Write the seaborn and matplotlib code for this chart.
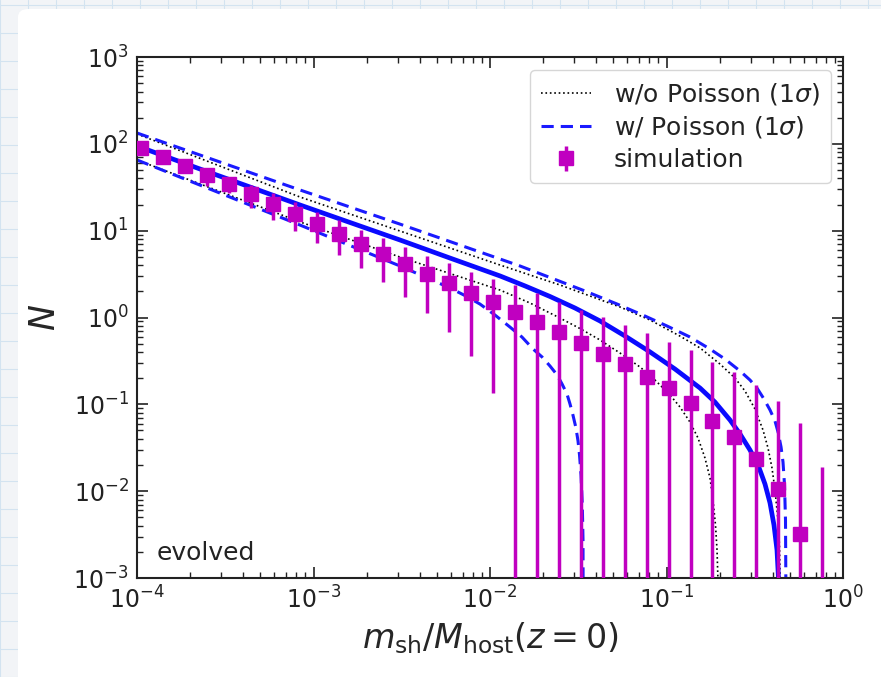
import numpy as np
import pandas as pd
import matplotlib
matplotlib.use("Agg")
import matplotlib.pyplot as plt
from matplotlib.patches import FancyBboxPatch
import seaborn as sns

# ---------------- data ----------------
sim_x = [1.054e-4, 1.404e-4, 1.870e-4, 2.491e-4, 3.318e-4, 4.42e-4, 5.89e-4, 7.84e-4,
         1.045e-3, 1.392e-3, 1.854e-3, 2.47e-3, 3.29e-3, 4.38e-3, 5.84e-3, 7.78e-3,
         1.036e-2, 1.38e-2, 1.84e-2, 2.45e-2, 3.26e-2, 4.34e-2, 5.79e-2, 7.71e-2,
         0.1027, 0.1368, 0.1822, 0.2427, 0.3233, 0.4307, 0.5737, 0.764]
sim_N = [89.5, 70.5, 55.5, 43.8, 34.5, 26.4, 20.3, 15.6, 11.9, 9.2, 7.0, 5.4, 4.1, 3.2,
         2.5, 1.91, 1.51, 1.16, 0.89, 0.68, 0.51, 0.38, 0.29, 0.206, 0.154, 0.104,
         0.064, 0.042, 0.0235, 0.0106, 0.0032, 0.0]
sim_hi = [101, 80, 64, 52, 42, 33.6, 27.2, 21.4, 16.4, 13.3, 10.2, 8.2, 6.5, 5.1, 4.25,
          3.34, 2.77, 2.37, 1.91, 1.51, 1.22, 1.01, 0.82, 0.66, 0.52, 0.42, 0.31, 0.235,
          0.167, 0.109, 0.061, 0.019]
sim_lo = [78, 60, 46, 33, 27, 18.2, 13.3, 9.9, 7.2, 5.25, 3.72, 2.56, 1.72, 1.13, 0.68,
          0.36, 0.135, 0, 0, 0, 0, 0, 0, 0, 0, 0, 0, 0, 0, 0, 0, 0]

mean_x = [1e-4, 2.275e-4, 8.39e-4, 3.09e-3, 5.93e-3, 1.14e-2, 1.578e-2, 2.188e-2,
          3.03e-2, 4.20e-2, 5.82e-2, 8.07e-2, 0.1117, 0.1549, 0.188, 0.2291, 0.261,
          0.2972, 0.3299, 0.3614, 0.3858, 0.4064, 0.4227, 0.4309, 0.4333]
mean_y = [94.4, 51.3, 19.75, 7.81, 4.84, 3.01, 2.31, 1.745, 1.286, 0.912, 0.612, 0.401,
          0.255, 0.154, 0.1064, 0.0659, 0.0455, 0.0298, 0.0201, 0.01208, 0.00733,
          0.00407, 0.0021, 0.001, 0.0003]

pois_up_x = [1e-4, 8.39e-4, 3.09e-3, 8.77e-3, 1.479e-2, 2.188e-2, 3.45e-2, 5.25e-2,
             7.55e-2, 0.1007, 0.1358, 0.1762, 0.2142, 0.261, 0.2972, 0.3256, 0.3567,
             0.3858, 0.4118, 0.4285, 0.4457, 0.4571, 0.4663, 0.4723, 0.4750]
pois_up_y = [133.3, 29.4, 11.9, 5.68, 3.92, 2.887, 2.02, 1.429, 1.04, 0.798, 0.596,
             0.4335, 0.3327, 0.242, 0.1905, 0.154, 0.1151, 0.0861, 0.0643, 0.048,
             0.0322, 0.0217, 0.01178, 0.00466, 0.0006]
pois_lo_x = [1e-4, 8.39e-4, 3.09e-3, 5.93e-3, 7.21e-3, 8.77e-3, 1.066e-2, 1.297e-2,
             1.517e-2, 1.754e-2, 1.972e-2, 2.188e-2, 2.40e-2, 2.56e-2, 2.73e-2, 2.84e-2,
             2.95e-2, 3.07e-2, 3.153e-2, 3.215e-2, 3.279e-2, 3.334e-2, 3.365e-2, 3.37e-2]
pois_lo_y = [65.2, 11.6, 3.92, 2.19, 1.79, 1.429, 1.069, 0.777, 0.596, 0.4335, 0.351,
             0.276, 0.218, 0.1714, 0.1315, 0.1009, 0.0754, 0.0533, 0.0378, 0.0261,
             0.01535, 0.00692, 0.00274, 0.0006]

nopois_up_x = [1e-4, 8.39e-4, 3.09e-3, 1.14e-2, 2.49e-2, 5.46e-2, 8.07e-2, 0.119,
               0.1549, 0.201, 0.2443, 0.2786, 0.3172, 0.3522, 0.3759, 0.3960, 0.4118,
               0.4255, 0.4365, 0.4422]
nopois_up_y = [129.8, 24.4, 9.91, 4.02, 2.37, 1.32, 0.935, 0.612, 0.4457, 0.291,
               0.201, 0.1422, 0.0883, 0.0506, 0.0314, 0.0185, 0.0103, 0.00531, 0.0024,
               0.0006]
nopois_lo_x = [1e-4, 8.39e-4, 3.09e-3, 1.14e-2, 1.685e-2, 2.49e-2, 3.236e-2, 4.20e-2,
               5.45e-2, 7.08e-2, 8.61e-2, 0.1047, 0.1193, 0.1358, 0.1509, 0.1652,
               0.1764, 0.1834, 0.1895, 0.1933, 0.1971]
nopois_lo_y = [65.2, 12.6, 4.97, 2.07, 1.469, 0.986, 0.746, 0.551, 0.390, 0.269,
               0.1905, 0.128, 0.0931, 0.0625, 0.0409, 0.0241, 0.01416, 0.0079, 0.00407,
               0.0021, 0.0006]

# ---------------- figure ----------------
sns.set_theme(style="ticks")
plt.rcParams.update({
    "font.family": ["DejaVu Sans"],
    "mathtext.fontset": "dejavusans",
    "xtick.direction": "in", "ytick.direction": "in",
    "xtick.top": True, "ytick.right": True,
    "xtick.major.size": 8, "ytick.major.size": 8,
    "xtick.minor.size": 4, "ytick.minor.size": 4,
    "xtick.major.width": 1.2, "ytick.major.width": 1.2,
    "xtick.minor.width": 1.0, "ytick.minor.width": 1.0,
    "xtick.color": "#222222", "ytick.color": "#222222",
    "axes.edgecolor": "#222222",
    "axes.linewidth": 1.5,
})

W, H = 881, 677
fig = plt.figure(figsize=(W / 100, H / 100), dpi=100)
fig.patch.set_facecolor("#f2f4f7")
# graph-paper background lines
for gx in range(0, W, 28):
    fig.add_artist(plt.Line2D([gx / W, gx / W], [0, 1], color="#d3e3f0", lw=0.8,
                              transform=fig.transFigure, zorder=-3))
for gy in range(0, H, 28):
    fig.add_artist(plt.Line2D([0, 1], [gy / H, gy / H], color="#d3e3f0", lw=0.8,
                              transform=fig.transFigure, zorder=-3))
panel = FancyBboxPatch((18 / W, -0.05), 1.2, 1 - 9 / H + 0.05,
                       boxstyle="round,pad=0,rounding_size=0.012",
                       transform=fig.transFigure, facecolor="white",
                       edgecolor="none", zorder=-2)
fig.add_artist(panel)

ax = fig.add_axes([137 / W, 1 - 578 / H, (843 - 137) / W, (578 - 57) / H])
ax.set_zorder(1)
ax.set_facecolor("white")
ax.set_xscale("log")
ax.set_yscale("log")

def curve(xs, ys, **kw):
    df = pd.DataFrame({"x": xs, "y": ys})
    sns.lineplot(data=df, x="x", y="y", sort=False, estimator=None, ax=ax, **kw)
    line = ax.lines[-1]
    line.set_solid_joinstyle("round")
    line.set_dash_joinstyle("round")
    return line

l_nop = curve(nopois_up_x, nopois_up_y, color="black", lw=1.2, linestyle=":")
curve(nopois_lo_x, nopois_lo_y, color="black", lw=1.2, linestyle=":")
l_p = curve(pois_up_x, pois_up_y, color="#1a1aff", lw=2.2)
l_p.set_dashes((4, 2.3))
l_p2 = curve(pois_lo_x, pois_lo_y, color="#1a1aff", lw=2.2)
l_p2.set_dashes((4, 2.3))
curve(mean_x, mean_y, color="#0a0aff", lw=3.4)

sx = np.array(sim_x)
sN = np.array(sim_N)
yerr = np.vstack([sN - np.array(sim_lo), np.array(sim_hi) - sN])
eb = ax.errorbar(sx, sN, yerr=yerr, fmt="s", color="#c000c0", ms=10,
                 elinewidth=2.5, capsize=0, zorder=5)

ax.set_xlim(1e-4, 1)
ax.set_ylim(1e-3, 1e3)
ax.tick_params(axis="both", which="major", labelsize=17, pad=6)
ax.set_xlabel(r"$m_{\rm sh}/M_{\rm host}(z=0)$", fontsize=24, labelpad=5)
ax.set_ylabel(r"$N$", fontsize=25, labelpad=8)

ax.text(0.028, 0.025, "evolved", transform=ax.transAxes, fontsize=18,
        ha="left", va="bottom", color="#222222")

leg = ax.legend([l_nop, l_p, eb],
                [r"w/o Poisson ($1\sigma$)", r"w/ Poisson ($1\sigma$)", "simulation"],
                loc="upper right", fontsize=18, handlelength=2.0, handletextpad=0.9,
                frameon=True, fancybox=True, borderaxespad=0.5, labelspacing=0.3,
                borderpad=0.45)
leg.get_frame().set_edgecolor("#cccccc")
leg.get_frame().set_linewidth(1.0)
for t in leg.get_texts():
    t.set_color("#222222")

fig.savefig("out.png", dpi=100, facecolor=fig.get_facecolor())
